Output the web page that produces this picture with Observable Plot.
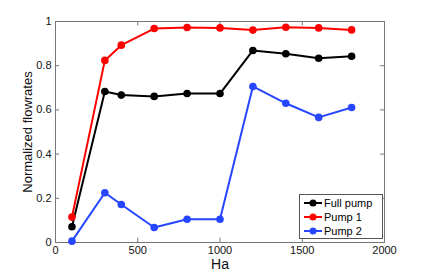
<!DOCTYPE html>
<html><head><meta charset="utf-8">
<script src="https://cdn.jsdelivr.net/npm/d3@7"></script>
<script src="https://cdn.jsdelivr.net/npm/@observablehq/plot@0.6"></script>
<style>
body{margin:0;background:#fff;font-family:"Liberation Sans",Arial,sans-serif;}
#wrap{position:relative;width:425px;height:273px;}
#legend{position:absolute;left:299px;top:194px;width:84px;height:45px;border:1px solid #555;background:#fff;font-size:11px;box-sizing:border-box;padding-top:1px;}
#legend div{height:14px;line-height:14px;display:flex;align-items:center;}
#legend svg{margin-left:4px;margin-right:2px;}
</style></head><body><div id="wrap"></div>
<script>
const ha = [100, 300, 400, 600, 800, 1000, 1200, 1400, 1600, 1800];
const fullPump = [0.071, 0.683, 0.667, 0.661, 0.674, 0.674, 0.869, 0.854, 0.834, 0.843];
const pump1 = [0.115, 0.824, 0.893, 0.968, 0.973, 0.971, 0.961, 0.974, 0.971, 0.962];
const pump2 = [0.006, 0.225, 0.172, 0.068, 0.105, 0.105, 0.706, 0.630, 0.566, 0.611];
const seriesNames = ["Full pump", "Pump 1", "Pump 2"];
const seriesColors = ["#000000", "#ff0000", "#2646ff"];
const xTicks = [0, 500, 1000, 1500, 2000];
const yTicks = [0, 0.2, 0.4, 0.6, 0.8, 1];

const rows = [];
[fullPump, pump1, pump2].forEach((vals, s) => vals.forEach((v, i) => rows.push({x: ha[i], y: v, s: seriesNames[s]})));

const tickLenX = 0.02, tickLenY = 25;
const chart = Plot.plot({
  width: 425, height: 273,
  marginLeft: 55, marginRight: 41, marginTop: 21, marginBottom: 31,
  style: {fontFamily: "Liberation Sans, Arial, sans-serif", fontSize: "11px", color: "#111"},
  x: {domain: [0, 2000]},
  y: {domain: [0, 1]},
  color: {domain: seriesNames, range: seriesColors},
  marks: [
    Plot.frame({stroke: "#777"}),
    Plot.ruleX(xTicks, {x: d => d, y1: 0, y2: tickLenX, stroke: "#777"}),
    Plot.ruleX(xTicks, {x: d => d, y1: 1 - tickLenX, y2: 1, stroke: "#777"}),
    Plot.ruleY(yTicks, {y: d => d, x1: 0, x2: tickLenY, stroke: "#777"}),
    Plot.ruleY(yTicks, {y: d => d, x1: 2000 - tickLenY, x2: 2000, stroke: "#777"}),
    Plot.axisX({ticks: xTicks, tickSize: 0, tickPadding: 4, tickFormat: d => String(d), label: null}),
    Plot.axisX({ticks: [], tickSize: 0, label: "Ha", labelAnchor: "center", labelArrow: "none", labelOffset: 26, fontSize: 14}),
    Plot.axisY({ticks: yTicks, tickSize: 0, tickPadding: 4, tickFormat: d => String(d), label: null}),
    Plot.axisY({ticks: [], tickSize: 0, label: "Normalized flowrates", labelAnchor: "center", labelArrow: "none", labelOffset: 33, fontSize: 13}),
    Plot.line(rows, {x: "x", y: "y", z: "s", stroke: "s", strokeWidth: 2}),
    Plot.dot(rows, {x: "x", y: "y", fill: "s", r: 3.8})
  ]
});
const wrap = document.getElementById("wrap");
wrap.appendChild(chart);
const leg = document.createElement("div");
leg.id = "legend";
seriesNames.forEach((n, i) => {
  const row = document.createElement("div");
  row.innerHTML = `<svg width="18" height="8"><line x1="0" y1="4" x2="18" y2="4" stroke="${seriesColors[i]}" stroke-width="2"/><circle cx="9" cy="4" r="3.5" fill="${seriesColors[i]}"/></svg>${n}`;
  leg.appendChild(row);
});
wrap.appendChild(leg);
</script></body></html>
